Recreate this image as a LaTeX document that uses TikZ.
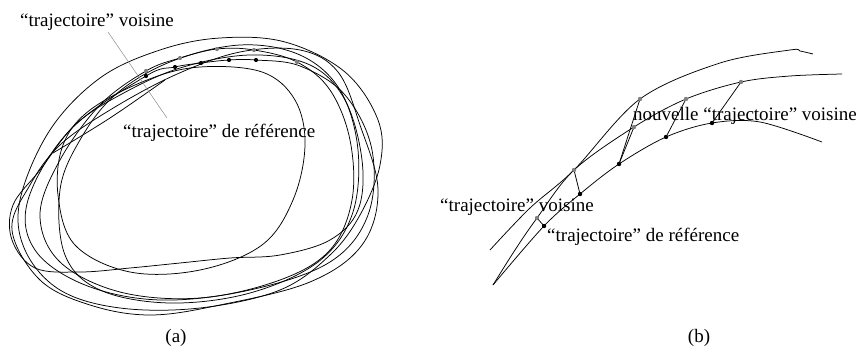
\documentclass[tikz,border=0pt]{standalone}
\usepackage{fontspec}
\setmainfont{Liberation Serif}
\begin{document}
\begin{tikzpicture}[x=1pt,y=-1pt,
  traj/.style={line width=0.75pt, line join=round},
  lead/.style={line width=0.5pt, black!45},
  link/.style={line width=0.75pt},
  gdot/.style={circle, fill=black!50, inner sep=0pt, minimum size=4.2pt},
  bdot/.style={circle, fill=black, inner sep=0pt, minimum size=4.2pt},
  lbl/.style={font=\fontsize{19}{23}\selectfont, inner sep=0pt, anchor=base west}]
\useasboundingbox (0,0) rectangle (859,350);

% ---------------- panel (a) ----------------
\draw[traj] plot[smooth cycle, tension=0.6] coordinates {(146,71) (180,58) (217,49) (254,50) (297,62) (330,90) (350,140) (352,200) (330,250) (280,280) (200,298) (120,292) (60,262) (40,215) (60,160) (100,105)};
\draw[traj] plot[smooth cycle, tension=0.6] coordinates {(146,76) (175,67) (201,63) (229,60) (256,60) (300,66) (345,95) (372,150) (368,215) (330,262) (250,290) (160,300) (85,285) (35,250) (28,200) (70,130)};
\draw[traj] plot[smooth cycle, tension=0.6] coordinates {(90,110) (147,80) (200,67) (262,72) (295,100) (305,145) (293,200) (262,245) (200,270) (130,272) (75,245) (58,195) (63,145)};
\draw[traj] plot[smooth cycle, tension=0.6] coordinates {(100,78) (160,50) (220,38) (285,42) (345,72) (378,120) (380,165) (360,215) (330,255) (280,290) (200,308) (120,308) (60,290) (25,250) (20,200) (50,130)};
\draw[traj] plot[smooth cycle, tension=0.6] coordinates {(40,170) (75,125) (120,95) (180,68) (250,55) (310,65) (345,100) (362,160) (358,210) (330,240) (280,255) (230,258) (180,263) (130,268) (80,272) (35,268) (12,240) (13,205)};
\draw[traj] plot[smooth cycle, tension=0.6] coordinates {(30,185) (60,145) (110,110) (175,75) (240,52) (300,50) (338,72) (360,125) (378,190) (362,245) (310,282) (220,305) (150,315) (90,305) (40,280) (12,230)};
\draw[traj] plot[smooth cycle, tension=0.6] coordinates {(60,190) (80,140) (115,95) (170,62) (240,45) (300,55) (340,90) (358,150) (352,215) (318,262) (250,293) (170,303) (100,290) (65,255)};
\draw[traj] plot[smooth, tension=0.6] coordinates {(53,153) (110,118) (165,80)};

\foreach \n/\p in {a1/{(146,71)}, a2/{(180,58)}, a3/{(217,49)}, a4/{(254,50)}, a5/{(297,62)}}
  \node[gdot] (g\n) at \p {};
\foreach \n/\p in {a1/{(146,76)}, a2/{(175,67)}, a3/{(201,63)}, a4/{(229,60)}, a5/{(256,60)}}
  \node[bdot] (b\n) at \p {};

\node[lbl] (lav) at (20,27) {“trajectoire” voisine};
\node[lbl] (lar) at (123,138) {“trajectoire” de référence};
\coordinate (la1) at (108,32);
\coordinate (la2) at (167,118);
\draw[lead] (la1) -- (la2);
\node[font=\fontsize{19}{23}\selectfont, inner sep=0pt] (capa) at (176,338) {(a)};

% ---------------- panel (b) ----------------
\node[gdot] (g0) at (537,218) {};
\node[gdot] (g1) at (574,170) {};
\node[gdot] (h1) at (640,99) {};
\node[gdot] (g2) at (634,127) {};
\node[gdot] (g3) at (686,99) {};
\node[gdot] (g4) at (741,82) {};
\node[bdot] (b0) at (544,226) {};
\node[bdot] (b1) at (580,194) {};
\node[bdot] (b2) at (619,164) {};
\node[bdot] (b3) at (666,137) {};
\node[bdot] (b4) at (712,123) {};
\coordinate (sA) at (490,250);
\coordinate (sB) at (493,285);
\coordinate (eA) at (813,54);
\coordinate (eB) at (842,74);
\coordinate (eC) at (822,142);

\draw[traj] plot[smooth, tension=0.55] coordinates {(sA) (530,208) (g1.center) (h1.center) (720,63) (790,50) (800,51) (eA)};
\draw[traj] plot[smooth, tension=0.55] coordinates {(sB) (515,250) (g0.center) (g1.center) (g2.center) (g3.center) (g4.center) (790,76) (eB)};
\draw[traj] plot[smooth, tension=0.55] coordinates {(sB) (b0.center) (b1.center) (b2.center) (b3.center) (b4.center) (760,122) (eC)};

\draw[link] (g0.center) -- (b0.center);
\draw[link] (g1.center) -- (b1.center);
\draw[link] (h1.center) -- (b2.center);
\draw[link] (g2.center) -- (b2.center);
\draw[link] (g3.center) -- (b3.center);
\draw[link] (g4.center) -- (b4.center);

\foreach \d in {g0,g1,h1,g2,g3,g4} \node[gdot] at (\d) {};
\foreach \d in {b0,b1,b2,b3,b4} \node[bdot] at (\d) {};

\node[lbl, anchor=base east] (lbn) at (857,121) {nouvelle “trajectoire” voisine};
\node[lbl] (lbv) at (440,211) {“trajectoire” voisine};
\node[lbl] (lbr) at (547,241) {“trajectoire” de référence};
\node[font=\fontsize{19}{23}\selectfont, inner sep=0pt] (capb) at (699,338) {(b)};
\end{tikzpicture}
\end{document}
